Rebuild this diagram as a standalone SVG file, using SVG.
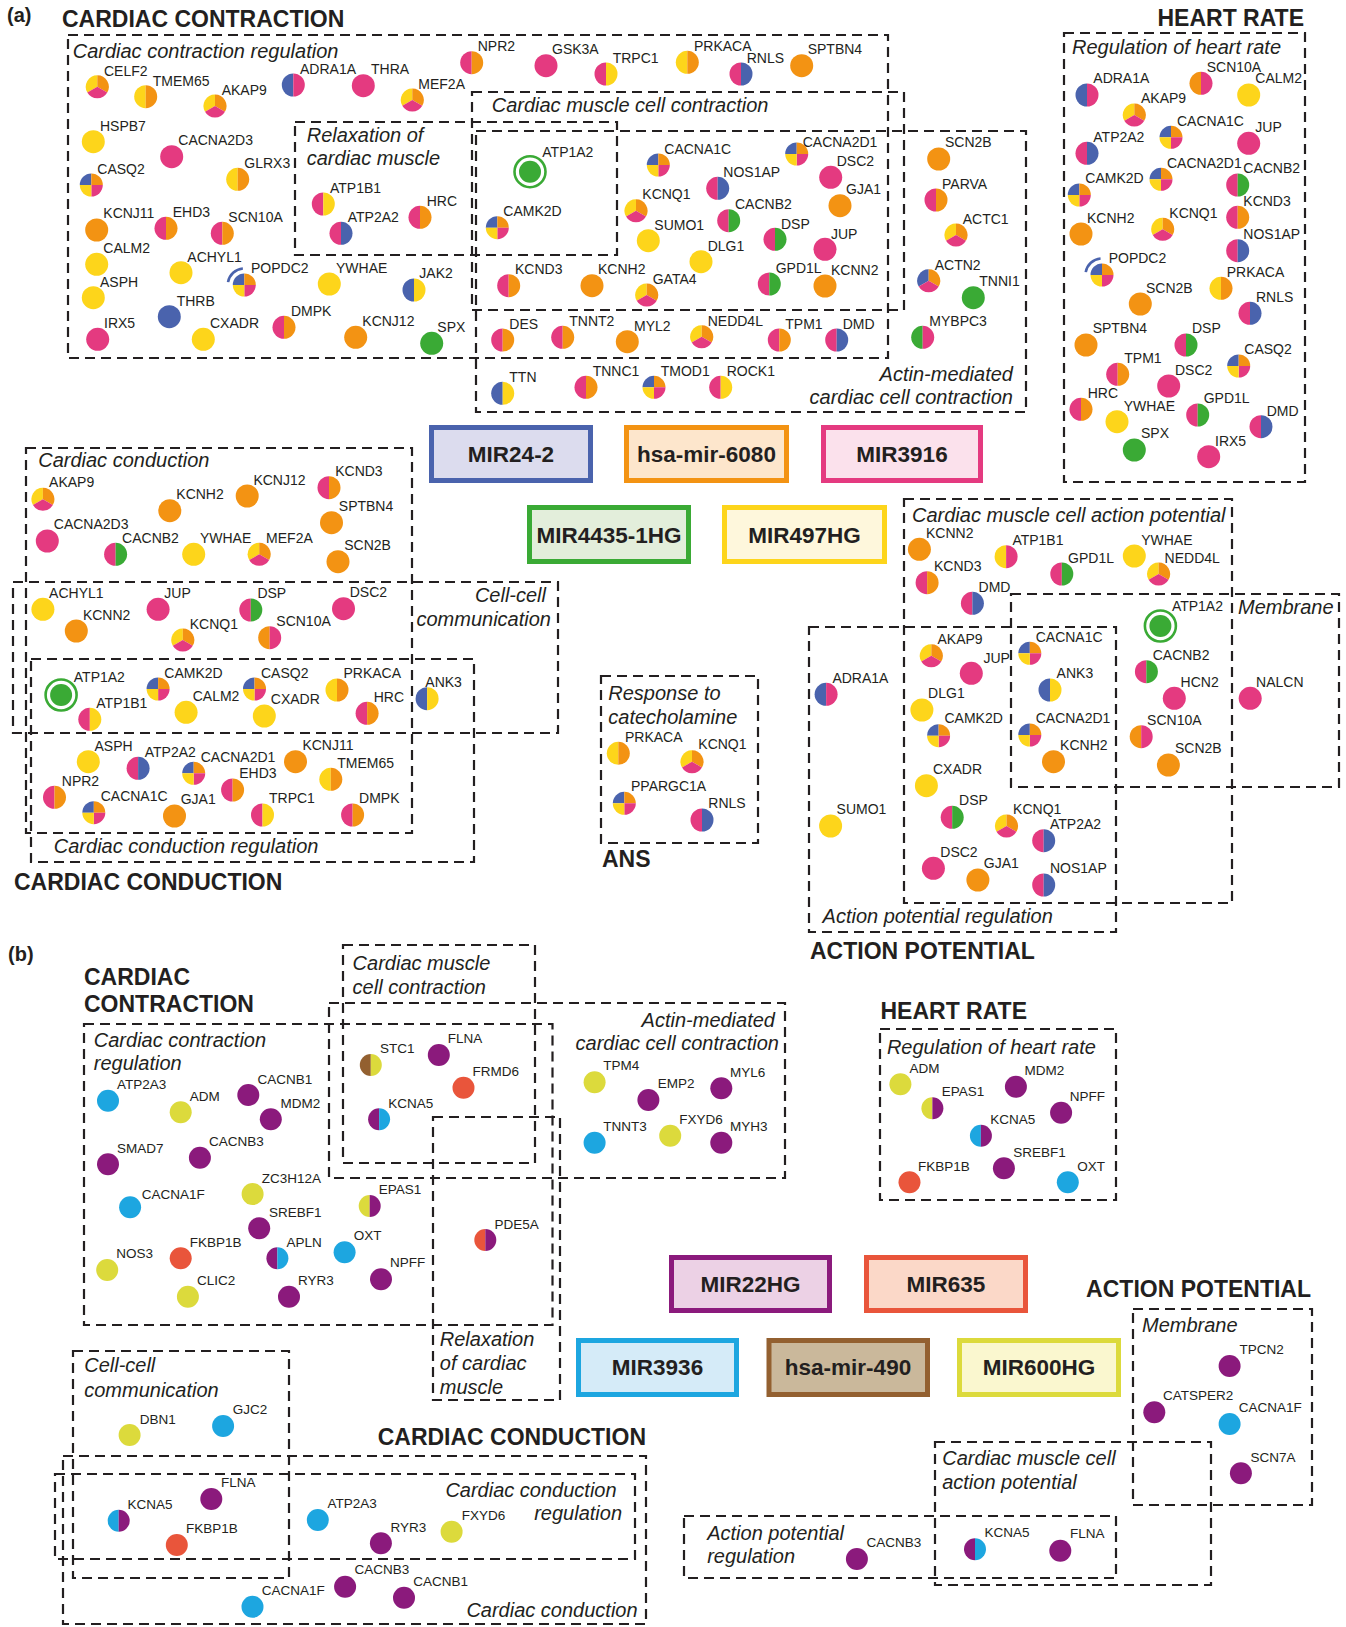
<svg xmlns="http://www.w3.org/2000/svg" width="1346" height="1627" viewBox="0 0 1346 1627">
<style>
text{font-family:"Liberation Sans",Arial,sans-serif;font-size:14px;fill:#231f20}
.pb text{font-size:13.5px}
.lbl{font-style:italic;font-size:20px}
.end{text-anchor:end}
.ttl{font-weight:bold;font-size:23px}
.mir{font-weight:bold;font-size:22.5px;text-anchor:middle}
.bx{fill:none;stroke:#231f20;stroke-width:2.2;stroke-dasharray:10 6}
.mb{stroke-width:5}
</style>
<defs>
<g id="Y"><circle r="11.5" fill="#fdd51b"/></g>
<g id="O"><circle r="11.5" fill="#f39313"/></g>
<g id="P"><circle r="11.5" fill="#e43a80"/></g>
<g id="B"><circle r="11.5" fill="#4a63ad"/></g>
<g id="G"><circle r="11.5" fill="#3aaa35"/></g>
<g id="PO"><path d="M0-11.5A11.5 11.5 0 0 0 0 11.5Z" fill="#e43a80"/><path d="M0-11.5A11.5 11.5 0 0 1 0 11.5Z" fill="#f39313"/></g>
<g id="OP"><path d="M0-11.5A11.5 11.5 0 0 0 0 11.5Z" fill="#f39313"/><path d="M0-11.5A11.5 11.5 0 0 1 0 11.5Z" fill="#e43a80"/></g>
<g id="YO"><path d="M0-11.5A11.5 11.5 0 0 0 0 11.5Z" fill="#fdd51b"/><path d="M0-11.5A11.5 11.5 0 0 1 0 11.5Z" fill="#f39313"/></g>
<g id="BP"><path d="M0-11.5A11.5 11.5 0 0 0 0 11.5Z" fill="#4a63ad"/><path d="M0-11.5A11.5 11.5 0 0 1 0 11.5Z" fill="#e43a80"/></g>
<g id="PB"><path d="M0-11.5A11.5 11.5 0 0 0 0 11.5Z" fill="#e43a80"/><path d="M0-11.5A11.5 11.5 0 0 1 0 11.5Z" fill="#4a63ad"/></g>
<g id="PY"><path d="M0-11.5A11.5 11.5 0 0 0 0 11.5Z" fill="#e43a80"/><path d="M0-11.5A11.5 11.5 0 0 1 0 11.5Z" fill="#fdd51b"/></g>
<g id="YP"><path d="M0-11.5A11.5 11.5 0 0 0 0 11.5Z" fill="#fdd51b"/><path d="M0-11.5A11.5 11.5 0 0 1 0 11.5Z" fill="#e43a80"/></g>
<g id="PG"><path d="M0-11.5A11.5 11.5 0 0 0 0 11.5Z" fill="#e43a80"/><path d="M0-11.5A11.5 11.5 0 0 1 0 11.5Z" fill="#3aaa35"/></g>
<g id="GP"><path d="M0-11.5A11.5 11.5 0 0 0 0 11.5Z" fill="#3aaa35"/><path d="M0-11.5A11.5 11.5 0 0 1 0 11.5Z" fill="#e43a80"/></g>
<g id="BY"><path d="M0-11.5A11.5 11.5 0 0 0 0 11.5Z" fill="#4a63ad"/><path d="M0-11.5A11.5 11.5 0 0 1 0 11.5Z" fill="#fdd51b"/></g>
<g id="YOP"><path d="M0 0L-9.96 5.75A11.5 11.5 0 0 1 0-11.5Z" fill="#fdd51b"/><path d="M0 0L0-11.5A11.5 11.5 0 0 1 9.96 5.75Z" fill="#f39313"/><path d="M0 0L9.96 5.75A11.5 11.5 0 0 1-9.96 5.75Z" fill="#e43a80"/></g>
<g id="BOP"><path d="M0 0L-9.96 5.75A11.5 11.5 0 0 1 0-11.5Z" fill="#4a63ad"/><path d="M0 0L0-11.5A11.5 11.5 0 0 1 9.96 5.75Z" fill="#f39313"/><path d="M0 0L9.96 5.75A11.5 11.5 0 0 1-9.96 5.75Z" fill="#e43a80"/></g>
<g id="Q4"><path d="M0 0L-11.5 0A11.5 11.5 0 0 1 0-11.5Z" fill="#4a63ad"/><path d="M0 0L0-11.5A11.5 11.5 0 0 1 11.5 0Z" fill="#f39313"/><path d="M0 0L11.5 0A11.5 11.5 0 0 1 0 11.5Z" fill="#e43a80"/><path d="M0 0L0 11.5A11.5 11.5 0 0 1-11.5 0Z" fill="#fdd51b"/></g>
<g id="POP"><use href="#Q4"/><path d="M-16.25-2.87A16.5 16.5 0 0 1-1.44-16.44" fill="none" stroke="#4a63ad" stroke-width="2.6"/></g>
<g id="ATP"><circle r="11" fill="#3aaa35"/><circle r="15.5" fill="none" stroke="#3aaa35" stroke-width="2.6"/></g>
<g id="bU"><circle r="11" fill="#8b1a7c"/></g>
<g id="bC"><circle r="11" fill="#1da6e0"/></g>
<g id="bG"><circle r="11" fill="#dcda3c"/></g>
<g id="bR"><circle r="11" fill="#e9553b"/></g>
<g id="bBrG"><path d="M0-11A11 11 0 0 0 0 11Z" fill="#936030"/><path d="M0-11A11 11 0 0 1 0 11Z" fill="#dcda3c"/></g>
<g id="bUC"><path d="M0-11A11 11 0 0 0 0 11Z" fill="#8b1a7c"/><path d="M0-11A11 11 0 0 1 0 11Z" fill="#1da6e0"/></g>
<g id="bCU"><path d="M0-11A11 11 0 0 0 0 11Z" fill="#1da6e0"/><path d="M0-11A11 11 0 0 1 0 11Z" fill="#8b1a7c"/></g>
<g id="bGU"><path d="M0-11A11 11 0 0 0 0 11Z" fill="#dcda3c"/><path d="M0-11A11 11 0 0 1 0 11Z" fill="#8b1a7c"/></g>
<g id="bRU"><path d="M0-11A11 11 0 0 0 0 11Z" fill="#e9553b"/><path d="M0-11A11 11 0 0 1 0 11Z" fill="#8b1a7c"/></g>
</defs>
<rect width="1346" height="1627" fill="#fff"/>

<g id="connectors"/>

<!-- ===== PART A ===== -->
<g id="a-titles">
<text x="7" y="22" style="font-weight:bold;font-size:20px">(a)</text>
<text class="ttl" x="62" y="27">CARDIAC CONTRACTION</text>
<text class="ttl end" x="1304" y="26">HEART RATE</text>
<text class="ttl" x="14" y="890">CARDIAC CONDUCTION</text>
<text class="ttl" x="602" y="867">ANS</text>
<text class="ttl" x="810" y="959">ACTION POTENTIAL</text>
</g>

<g id="a-boxes">
<rect class="bx" x="68" y="35" width="820" height="323"/>
<rect class="bx" x="295" y="122" width="322" height="133"/>
<rect class="bx" x="472" y="92" width="432" height="218"/>
<rect class="bx" x="476" y="131" width="550" height="281"/>
<rect class="bx" x="1064" y="33" width="241" height="449"/>
<rect class="bx" x="26" y="448" width="386" height="385"/>
<rect class="bx" x="13" y="582" width="545" height="151"/>
<rect class="bx" x="31" y="659" width="443" height="203"/>
<rect class="bx" x="601" y="676" width="157" height="167"/>
<rect class="bx" x="904" y="499" width="328" height="404"/>
<rect class="bx" x="1011" y="594" width="328" height="193"/>
<rect class="bx" x="809" y="627" width="307" height="305"/>
<text class="lbl" x="72.7" y="58">Cardiac contraction regulation</text>
<text class="lbl" x="306.7" y="141.7">Relaxation of</text>
<text class="lbl" x="306.7" y="165">cardiac muscle</text>
<text class="lbl" x="491.7" y="111.7">Cardiac muscle cell contraction</text>
<text class="lbl end" x="1013" y="381">Actin-mediated</text>
<text class="lbl end" x="1013" y="404">cardiac cell contraction</text>
<text class="lbl" x="1072" y="54">Regulation of heart rate</text>
<text class="lbl" x="38.2" y="466.7">Cardiac conduction</text>
<text class="lbl end" x="546" y="601.7">Cell-cell</text>
<text class="lbl end" x="551" y="626">communication</text>
<text class="lbl" x="53.8" y="853.3">Cardiac conduction regulation</text>
<text class="lbl" x="608.3" y="700">Response to</text>
<text class="lbl" x="608.3" y="724">catecholamine</text>
<text class="lbl" x="912" y="521.7">Cardiac muscle cell action potential</text>
<text class="lbl" x="1238" y="614.3">Membrane</text>
<text class="lbl" x="822.6" y="923.3">Action potential regulation</text>
</g>

<g id="a-mirnas">
<g id="a-MIR24-2"><rect class="mb" x="431.5" y="427.5" width="159" height="53" fill="#dcdcee" stroke="#4a63ad"/><text class="mir" x="511" y="462">MIR24-2</text></g>
<g id="a-hsa-mir-6080"><rect class="mb" x="626.5" y="427.5" width="160" height="53" fill="#fde6cc" stroke="#f39313"/><text class="mir" x="706.5" y="462">hsa-mir-6080</text></g>
<g id="a-MIR3916"><rect class="mb" x="823.5" y="427.5" width="157" height="53" fill="#fbe1ec" stroke="#e43a80"/><text class="mir" x="902" y="462">MIR3916</text></g>
<g id="a-MIR4435-1HG"><rect class="mb" x="529.5" y="507.5" width="159" height="54" fill="#e3eedb" stroke="#3aaa35"/><text class="mir" x="609" y="542.5">MIR4435-1HG</text></g>
<g id="a-MIR497HG"><rect class="mb" x="724.5" y="507.5" width="160" height="54" fill="#fef7dc" stroke="#fdd51b"/><text class="mir" x="804.5" y="542.5">MIR497HG</text></g>
</g>

<g id="a-contraction-nodes">
<g id="a1-CELF2"><use href="#YOP" x="97.3" y="86.7"/><text x="104" y="76">CELF2</text></g>
<g id="a1-TMEM65"><use href="#YO" x="145.7" y="96.7"/><text x="152.7" y="86">TMEM65</text></g>
<g id="a1-AKAP9"><use href="#YOP" x="215" y="106"/><text x="221.7" y="95">AKAP9</text></g>
<g id="a1-ADRA1A"><use href="#BP" x="293.3" y="85"/><text x="300" y="74">ADRA1A</text></g>
<g id="a1-THRA"><use href="#P" x="363.3" y="85.7"/><text x="371" y="74">THRA</text></g>
<g id="a1-MEF2A"><use href="#YOP" x="412.3" y="100"/><text x="418.3" y="89.3">MEF2A</text></g>
<g id="a1-NPR2"><use href="#PO" x="471.7" y="62.7"/><text x="477.7" y="51">NPR2</text></g>
<g id="a1-GSK3A"><use href="#P" x="546" y="65.7"/><text x="552" y="54.3">GSK3A</text></g>
<g id="a1-TRPC1"><use href="#PY" x="606" y="74"/><text x="612.7" y="63.3">TRPC1</text></g>
<g id="a1-PRKACA"><use href="#YO" x="687.3" y="62.3"/><text x="694" y="51">PRKACA</text></g>
<g id="a1-RNLS"><use href="#PB" x="741" y="74"/><text x="746.7" y="62.7">RNLS</text></g>
<g id="a1-SPTBN4"><use href="#O" x="801.7" y="65.7"/><text x="807.7" y="54.3">SPTBN4</text></g>
<g id="a1-HSPB7"><use href="#Y" x="93.3" y="141.7"/><text x="100" y="130.7">HSPB7</text></g>
<g id="a1-CACNA2D3"><use href="#P" x="171.7" y="156.7"/><text x="178.3" y="145">CACNA2D3</text></g>
<g id="a1-CASQ2"><use href="#Q4" x="91.3" y="185"/><text x="97.3" y="174">CASQ2</text></g>
<g id="a1-GLRX3"><use href="#YO" x="237.7" y="179.3"/><text x="244.3" y="168.3">GLRX3</text></g>
<g id="a1-KCNJ11"><use href="#O" x="96.7" y="230"/><text x="103.3" y="218.3">KCNJ11</text></g>
<g id="a1-EHD3"><use href="#PO" x="166" y="228.3"/><text x="172.7" y="217.3">EHD3</text></g>
<g id="a1-SCN10A"><use href="#PO" x="222.3" y="233.3"/><text x="228.3" y="222.3">SCN10A</text></g>
<g id="a1-CALM2"><use href="#Y" x="96.7" y="264.3"/><text x="103.3" y="253.3">CALM2</text></g>
<g id="a1-ACHYL1"><use href="#Y" x="181" y="272.7"/><text x="187.3" y="261.7">ACHYL1</text></g>
<g id="a1-POPDC2"><use href="#POP" x="244.3" y="285"/><text x="251" y="273.3">POPDC2</text></g>
<g id="a1-YWHAE"><use href="#Y" x="329.3" y="284"/><text x="336" y="273.3">YWHAE</text></g>
<g id="a1-JAK2"><use href="#BY" x="414" y="290"/><text x="419.3" y="278.3">JAK2</text></g>
<g id="a1-ASPH"><use href="#Y" x="93.3" y="297.7"/><text x="100" y="286.7">ASPH</text></g>
<g id="a1-THRB"><use href="#B" x="169.3" y="316.7"/><text x="176.7" y="306">THRB</text></g>
<g id="a1-CXADR"><use href="#Y" x="203.3" y="339.3"/><text x="210" y="328.3">CXADR</text></g>
<g id="a1-DMPK"><use href="#PO" x="284" y="327.3"/><text x="291" y="316">DMPK</text></g>
<g id="a1-KCNJ12"><use href="#O" x="355.7" y="337.3"/><text x="362.3" y="326">KCNJ12</text></g>
<g id="a1-IRX5"><use href="#P" x="97.7" y="339.3"/><text x="104" y="328.3">IRX5</text></g>
<g id="a1-SPX"><use href="#G" x="431.7" y="343.3"/><text x="437.3" y="331.7">SPX</text></g>
<g id="a1-ATP1B1"><use href="#PY" x="323.3" y="204"/><text x="330" y="193.3">ATP1B1</text></g>
<g id="a1-ATP2A2"><use href="#PB" x="341" y="233.3"/><text x="347.7" y="222.3">ATP2A2</text></g>
<g id="a1-HRC"><use href="#PO" x="420" y="217.3"/><text x="426.7" y="205.7">HRC</text></g>
<g id="a1-ATP1A2"><use href="#ATP" x="530" y="171.7"/><text x="542.3" y="156.7">ATP1A2</text></g>
<g id="a1-CAMK2D"><use href="#Q4" x="497.3" y="227.7"/><text x="503.3" y="216">CAMK2D</text></g>
<g id="a1-CACNA1C"><use href="#Q4" x="658.3" y="165"/><text x="664.3" y="154">CACNA1C</text></g>
<g id="a1-NOS1AP"><use href="#PB" x="717.7" y="188.3"/><text x="723.3" y="176.7">NOS1AP</text></g>
<g id="a1-CACNA2D1"><use href="#Q4" x="796.7" y="154"/><text x="802.7" y="147">CACNA2D1</text></g>
<g id="a1-DSC2"><use href="#P" x="830.7" y="177.3"/><text x="836.7" y="166">DSC2</text></g>
<g id="a1-KCNQ1"><use href="#YOP" x="636" y="210.7"/><text x="642.3" y="199.3">KCNQ1</text></g>
<g id="a1-SUMO1"><use href="#Y" x="648.3" y="240.7"/><text x="654.3" y="230">SUMO1</text></g>
<g id="a1-CACNB2"><use href="#PG" x="728.7" y="220.7"/><text x="735" y="209.3">CACNB2</text></g>
<g id="a1-GJA1"><use href="#O" x="840" y="205.7"/><text x="846" y="194.3">GJA1</text></g>
<g id="a1-DSP"><use href="#PG" x="775" y="239.3"/><text x="781" y="228.7">DSP</text></g>
<g id="a1-DLG1"><use href="#Y" x="701" y="261.7"/><text x="707.7" y="250.7">DLG1</text></g>
<g id="a1-JUP"><use href="#P" x="825" y="249.3"/><text x="831" y="238.7">JUP</text></g>
<g id="a1-KCND3"><use href="#PO" x="508.7" y="285.7"/><text x="515" y="274.3">KCND3</text></g>
<g id="a1-KCNH2"><use href="#O" x="592" y="285.7"/><text x="598" y="274.3">KCNH2</text></g>
<g id="a1-GATA4"><use href="#YOP" x="646.7" y="295"/><text x="652.7" y="284.3">GATA4</text></g>
<g id="a1-GPD1L"><use href="#PG" x="769.3" y="284"/><text x="775.7" y="272.7">GPD1L</text></g>
<g id="a1-KCNN2"><use href="#O" x="825" y="286"/><text x="831" y="275">KCNN2</text></g>
<g id="a1-DES"><use href="#PO" x="502.7" y="340"/><text x="509.3" y="329">DES</text></g>
<g id="a1-TNNT2"><use href="#PO" x="562.7" y="337.3"/><text x="569.3" y="325.7">TNNT2</text></g>
<g id="a1-MYL2"><use href="#O" x="627.3" y="341.7"/><text x="634" y="331">MYL2</text></g>
<g id="a1-NEDD4L"><use href="#YOP" x="701.7" y="336.7"/><text x="707.7" y="325.7">NEDD4L</text></g>
<g id="a1-TPM1"><use href="#PO" x="779.3" y="340"/><text x="785.3" y="329">TPM1</text></g>
<g id="a1-DMD"><use href="#PB" x="836.7" y="340"/><text x="842.7" y="329">DMD</text></g>
<g id="a1-TTN"><use href="#BY" x="502.7" y="393.3"/><text x="509.3" y="381.7">TTN</text></g>
<g id="a1-TNNC1"><use href="#PO" x="586" y="387.3"/><text x="592.7" y="376">TNNC1</text></g>
<g id="a1-TMOD1"><use href="#Q4" x="654" y="387.3"/><text x="660.7" y="376">TMOD1</text></g>
<g id="a1-ROCK1"><use href="#PY" x="720.7" y="387.3"/><text x="726.7" y="376">ROCK1</text></g>
<g id="a1-SCN2B"><use href="#O" x="938.7" y="159"/><text x="945" y="147.3">SCN2B</text></g>
<g id="a1-PARVA"><use href="#PO" x="936" y="200"/><text x="942" y="189">PARVA</text></g>
<g id="a1-ACTC1"><use href="#YOP" x="956" y="235"/><text x="962.7" y="224">ACTC1</text></g>
<g id="a1-ACTN2"><use href="#BOP" x="928.7" y="280.7"/><text x="934.7" y="270">ACTN2</text></g>
<g id="a1-TNNI1"><use href="#G" x="973.3" y="297.7"/><text x="979.3" y="286">TNNI1</text></g>
<g id="a1-MYBPC3"><use href="#GP" x="922.7" y="337.3"/><text x="929.3" y="326">MYBPC3</text></g>
</g>

<g id="a-heartrate-nodes">
<g id="a2-ADRA1A"><use href="#BP" x="1087" y="95"/><text x="1093.3" y="83.3">ADRA1A</text></g>
<g id="a2-SCN10A"><use href="#OP" x="1201" y="83.3"/><text x="1206.7" y="71.7">SCN10A</text></g>
<g id="a2-CALM2"><use href="#Y" x="1248.7" y="95"/><text x="1255.3" y="83.3">CALM2</text></g>
<g id="a2-AKAP9"><use href="#YOP" x="1134.3" y="115"/><text x="1141" y="103.3">AKAP9</text></g>
<g id="a2-CACNA1C"><use href="#Q4" x="1171" y="137.3"/><text x="1177" y="126">CACNA1C</text></g>
<g id="a2-JUP"><use href="#P" x="1248.7" y="143.3"/><text x="1255.3" y="131.7">JUP</text></g>
<g id="a2-ATP2A2"><use href="#PB" x="1087" y="153.3"/><text x="1093.3" y="141.7">ATP2A2</text></g>
<g id="a2-CACNA2D1"><use href="#Q4" x="1161" y="179.3"/><text x="1167" y="167.7">CACNA2D1</text></g>
<g id="a2-CACNB2"><use href="#PG" x="1237.7" y="185"/><text x="1243.3" y="173.3">CACNB2</text></g>
<g id="a2-CAMK2D"><use href="#Q4" x="1079.3" y="195"/><text x="1085.3" y="183.3">CAMK2D</text></g>
<g id="a2-KCND3"><use href="#PO" x="1237.7" y="217.3"/><text x="1243.3" y="206">KCND3</text></g>
<g id="a2-KCNH2"><use href="#O" x="1081" y="234"/><text x="1087" y="222.7">KCNH2</text></g>
<g id="a2-KCNQ1"><use href="#YOP" x="1162.7" y="229.3"/><text x="1169.3" y="217.7">KCNQ1</text></g>
<g id="a2-NOS1AP"><use href="#PB" x="1237.7" y="250.7"/><text x="1243.3" y="239.3">NOS1AP</text></g>
<g id="a2-POPDC2"><use href="#POP" x="1102" y="275"/><text x="1108.7" y="263.3">POPDC2</text></g>
<g id="a2-PRKACA"><use href="#YO" x="1221" y="288.3"/><text x="1226.7" y="276.7">PRKACA</text></g>
<g id="a2-SCN2B"><use href="#O" x="1140.3" y="304"/><text x="1146" y="292.7">SCN2B</text></g>
<g id="a2-RNLS"><use href="#PB" x="1250" y="313.3"/><text x="1256" y="301.7">RNLS</text></g>
<g id="a2-SPTBN4"><use href="#O" x="1086" y="345"/><text x="1092.7" y="333.3">SPTBN4</text></g>
<g id="a2-DSP"><use href="#PG" x="1186" y="345"/><text x="1192" y="333.3">DSP</text></g>
<g id="a2-CASQ2"><use href="#Q4" x="1238.7" y="366"/><text x="1244.3" y="354.3">CASQ2</text></g>
<g id="a2-TPM1"><use href="#PO" x="1117.7" y="374.3"/><text x="1124.3" y="363.3">TPM1</text></g>
<g id="a2-DSC2"><use href="#P" x="1168.7" y="386"/><text x="1175" y="375">DSC2</text></g>
<g id="a2-HRC"><use href="#PO" x="1081" y="409.3"/><text x="1087.7" y="398.3">HRC</text></g>
<g id="a2-YWHAE"><use href="#Y" x="1117" y="421.7"/><text x="1123.7" y="410.7">YWHAE</text></g>
<g id="a2-GPD1L"><use href="#PG" x="1197.7" y="415"/><text x="1203.7" y="403.3">GPD1L</text></g>
<g id="a2-DMD"><use href="#PB" x="1261" y="426.7"/><text x="1266.7" y="416">DMD</text></g>
<g id="a2-SPX"><use href="#G" x="1134.3" y="450"/><text x="1141" y="438.3">SPX</text></g>
<g id="a2-IRX5"><use href="#P" x="1208.7" y="456.7"/><text x="1215" y="445.7">IRX5</text></g>
</g>

<g id="a-conduction-nodes">
<g id="a3-AKAP9"><use href="#YOP" x="42.9" y="499.3"/><text x="49.1" y="487.3">AKAP9</text></g>
<g id="a3-KCNH2"><use href="#O" x="169.8" y="510.7"/><text x="176.3" y="499.3">KCNH2</text></g>
<g id="a3-KCNJ12"><use href="#O" x="247.2" y="496"/><text x="253.4" y="485">KCNJ12</text></g>
<g id="a3-KCND3"><use href="#PO" x="329" y="487.7"/><text x="335.2" y="476">KCND3</text></g>
<g id="a3-SPTBN4"><use href="#O" x="331.5" y="522.7"/><text x="338.8" y="511">SPTBN4</text></g>
<g id="a3-CACNA2D3"><use href="#P" x="47.3" y="541"/><text x="53.8" y="529.3">CACNA2D3</text></g>
<g id="a3-CACNB2"><use href="#PG" x="115.6" y="554.3"/><text x="122.1" y="543.3">CACNB2</text></g>
<g id="a3-YWHAE"><use href="#Y" x="193.7" y="554.3"/><text x="199.9" y="543.3">YWHAE</text></g>
<g id="a3-MEF2A"><use href="#YOP" x="259.2" y="554.3"/><text x="266.1" y="543.3">MEF2A</text></g>
<g id="a3-SCN2B"><use href="#O" x="338" y="561.7"/><text x="344.2" y="550">SCN2B</text></g>
<g id="a3-ACHYL1"><use href="#Y" x="42.9" y="609.3"/><text x="49.1" y="598.3">ACHYL1</text></g>
<g id="a3-KCNN2"><use href="#O" x="76.3" y="631"/><text x="82.9" y="620">KCNN2</text></g>
<g id="a3-JUP"><use href="#P" x="158.1" y="609.3"/><text x="164.3" y="598.3">JUP</text></g>
<g id="a3-DSP"><use href="#PG" x="250.8" y="610"/><text x="257.4" y="598.3">DSP</text></g>
<g id="a3-DSC2"><use href="#P" x="343.5" y="608.7"/><text x="349.7" y="597.3">DSC2</text></g>
<g id="a3-KCNQ1"><use href="#YOP" x="182.8" y="640"/><text x="189.7" y="628.7">KCNQ1</text></g>
<g id="a3-SCN10A"><use href="#OP" x="269.7" y="637.7"/><text x="276.3" y="626">SCN10A</text></g>
<g id="a3-ATP1A2"><use href="#ATP" x="61.1" y="695"/><text x="73.8" y="681.7">ATP1A2</text></g>
<g id="a3-ATP1B1"><use href="#PY" x="89.8" y="719.3"/><text x="96.3" y="708.3">ATP1B1</text></g>
<g id="a3-CAMK2D"><use href="#Q4" x="158.1" y="689"/><text x="164.3" y="678.3">CAMK2D</text></g>
<g id="a3-CALM2"><use href="#Y" x="186.1" y="712.3"/><text x="192.7" y="701">CALM2</text></g>
<g id="a3-CASQ2"><use href="#Q4" x="254.5" y="689"/><text x="261" y="678.3">CASQ2</text></g>
<g id="a3-CXADR"><use href="#Y" x="264.3" y="716"/><text x="270.8" y="704.3">CXADR</text></g>
<g id="a3-PRKACA"><use href="#YO" x="337" y="690"/><text x="343.5" y="678.3">PRKACA</text></g>
<g id="a3-HRC"><use href="#PO" x="367.1" y="713.3"/><text x="373.7" y="701.7">HRC</text></g>
<g id="a3-ANK3"><use href="#BY" x="427.1" y="698.7"/><text x="425.3" y="686.7">ANK3</text></g>
<g id="a3-ASPH"><use href="#Y" x="88.3" y="761.7"/><text x="94.5" y="750.7">ASPH</text></g>
<g id="a3-ATP2A2"><use href="#PB" x="138.1" y="768.3"/><text x="144.7" y="756.7">ATP2A2</text></g>
<g id="a3-CACNA2D1"><use href="#Q4" x="193.7" y="773.3"/><text x="200.7" y="762.3">CACNA2D1</text></g>
<g id="a3-KCNJ11"><use href="#O" x="295.5" y="761.7"/><text x="302.4" y="750">KCNJ11</text></g>
<g id="a3-TMEM65"><use href="#YO" x="330.8" y="779.3"/><text x="337.3" y="767.7">TMEM65</text></g>
<g id="a3-EHD3"><use href="#PO" x="232.6" y="790"/><text x="239.2" y="777.7">EHD3</text></g>
<g id="a3-NPR2"><use href="#PO" x="54.5" y="797.3"/><text x="61.8" y="785.7">NPR2</text></g>
<g id="a3-CACNA1C"><use href="#Q4" x="93.8" y="812.7"/><text x="100.7" y="800.7">CACNA1C</text></g>
<g id="a3-GJA1"><use href="#O" x="174.5" y="816"/><text x="180.7" y="804">GJA1</text></g>
<g id="a3-TRPC1"><use href="#PY" x="262.5" y="815"/><text x="269" y="803.3">TRPC1</text></g>
<g id="a3-DMPK"><use href="#PO" x="352.6" y="815"/><text x="359.1" y="803.3">DMPK</text></g>
</g>

<g id="a-ans-nodes">
<g id="a4-PRKACA"><use href="#YO" x="618.3" y="753.3"/><text x="625" y="741.7">PRKACA</text></g>
<g id="a4-KCNQ1"><use href="#YOP" x="692" y="761.7"/><text x="698.3" y="749.3">KCNQ1</text></g>
<g id="a4-PPARGC1A"><use href="#Q4" x="624.3" y="803.3"/><text x="631" y="791">PPARGC1A</text></g>
<g id="a4-RNLS"><use href="#PB" x="702" y="820"/><text x="708.3" y="808.3">RNLS</text></g>
</g>

<g id="a-ap-nodes">
<g id="a5-KCNN2"><use href="#O" x="919.4" y="549.3"/><text x="926" y="537.7">KCNN2</text></g>
<g id="a5-ATP1B1"><use href="#YP" x="1006.1" y="556.7"/><text x="1012.4" y="545">ATP1B1</text></g>
<g id="a5-YWHAE"><use href="#Y" x="1134.3" y="556"/><text x="1141.2" y="545">YWHAE</text></g>
<g id="a5-KCND3"><use href="#PO" x="927.1" y="582.7"/><text x="934" y="571">KCND3</text></g>
<g id="a5-GPD1L"><use href="#PG" x="1061.8" y="574"/><text x="1068.1" y="562.7">GPD1L</text></g>
<g id="a5-NEDD4L"><use href="#YOP" x="1158.6" y="574"/><text x="1164.6" y="562.7">NEDD4L</text></g>
<g id="a5-DMD"><use href="#PB" x="972.4" y="603.3"/><text x="978.6" y="591.7">DMD</text></g>
<g id="a5-ATP1A2"><use href="#ATP" x="1160.4" y="626"/><text x="1171.9" y="610.7">ATP1A2</text></g>
<g id="a5-AKAP9"><use href="#YOP" x="931.3" y="655.7"/><text x="937.5" y="644">AKAP9</text></g>
<g id="a5-JUP"><use href="#P" x="971.3" y="673.3"/><text x="983.5" y="662.7">JUP</text></g>
<g id="a5-CACNA1C"><use href="#Q4" x="1029.8" y="653.3"/><text x="1035.7" y="641.7">CACNA1C</text></g>
<g id="a5-CACNB2"><use href="#PG" x="1146.4" y="671.7"/><text x="1152.7" y="660">CACNB2</text></g>
<g id="a5-ADRA1A"><use href="#BP" x="826.1" y="694.3"/><text x="832.4" y="682.7">ADRA1A</text></g>
<g id="a5-ANK3"><use href="#BY" x="1050" y="690"/><text x="1056.6" y="678.3">ANK3</text></g>
<g id="a5-HCN2"><use href="#P" x="1174.3" y="698.3"/><text x="1180.6" y="687.3">HCN2</text></g>
<g id="a5-NALCN"><use href="#P" x="1250.2" y="698.3"/><text x="1256.1" y="687.3">NALCN</text></g>
<g id="a5-DLG1"><use href="#Y" x="921.9" y="710"/><text x="928.1" y="698.3">DLG1</text></g>
<g id="a5-CAMK2D"><use href="#Q4" x="938.6" y="735.7"/><text x="944.5" y="723.3">CAMK2D</text></g>
<g id="a5-CACNA2D1"><use href="#Q4" x="1029.8" y="735"/><text x="1035.7" y="723.3">CACNA2D1</text></g>
<g id="a5-SCN10A"><use href="#OP" x="1141.2" y="736.7"/><text x="1147.1" y="725">SCN10A</text></g>
<g id="a5-KCNH2"><use href="#O" x="1053.5" y="761.7"/><text x="1060.1" y="750">KCNH2</text></g>
<g id="a5-SCN2B"><use href="#O" x="1168.4" y="765"/><text x="1175" y="753.3">SCN2B</text></g>
<g id="a5-CXADR"><use href="#Y" x="926.4" y="785.7"/><text x="933" y="774">CXADR</text></g>
<g id="a5-SUMO1"><use href="#Y" x="830.6" y="826"/><text x="836.6" y="814.3">SUMO1</text></g>
<g id="a5-DSP"><use href="#PG" x="952.2" y="817.3"/><text x="959.1" y="805">DSP</text></g>
<g id="a5-KCNQ1"><use href="#YOP" x="1006.5" y="826"/><text x="1013.1" y="814">KCNQ1</text></g>
<g id="a5-ATP2A2"><use href="#PB" x="1043.7" y="840.7"/><text x="1050" y="829">ATP2A2</text></g>
<g id="a5-DSC2"><use href="#P" x="933.4" y="868.3"/><text x="940.3" y="856.7">DSC2</text></g>
<g id="a5-GJA1"><use href="#O" x="977.9" y="880"/><text x="983.8" y="868.3">GJA1</text></g>
<g id="a5-NOS1AP"><use href="#PB" x="1043.7" y="885"/><text x="1050" y="873.3">NOS1AP</text></g>
</g>

<!-- ===== PART B ===== -->
<g id="b-titles">
<text x="8" y="961" style="font-weight:bold;font-size:20px">(b)</text>
<text class="ttl" x="84" y="985">CARDIAC</text>
<text class="ttl" x="84" y="1012">CONTRACTION</text>
<text class="ttl" x="880.5" y="1019">HEART RATE</text>
<text class="ttl end" x="646" y="1445">CARDIAC CONDUCTION</text>
<text class="ttl end" x="1311" y="1297">ACTION POTENTIAL</text>
</g>

<g id="b-boxes">
<rect class="bx" x="84" y="1024" width="468.5" height="301"/>
<rect class="bx" x="343" y="945" width="192" height="218"/>
<rect class="bx" x="329" y="1003" width="456" height="175"/>
<rect class="bx" x="433" y="1117" width="127" height="283"/>
<rect class="bx" x="880" y="1029" width="236" height="171"/>
<rect class="bx" x="73" y="1351" width="216" height="227"/>
<rect class="bx" x="63" y="1456" width="583" height="168"/>
<rect class="bx" x="55" y="1474" width="580" height="85"/>
<rect class="bx" x="1133" y="1309" width="179" height="196"/>
<rect class="bx" x="935" y="1442" width="276" height="143"/>
<rect class="bx" x="684" y="1516" width="432" height="62"/>
<text class="lbl" x="352.6" y="970">Cardiac muscle</text>
<text class="lbl" x="352.6" y="994.3">cell contraction</text>
<text class="lbl end" x="775" y="1026.7">Actin-mediated</text>
<text class="lbl end" x="779" y="1050">cardiac cell contraction</text>
<text class="lbl" x="93.8" y="1046.7">Cardiac contraction</text>
<text class="lbl" x="93.8" y="1070">regulation</text>
<text class="lbl" x="439.8" y="1346">Relaxation</text>
<text class="lbl" x="439.8" y="1370">of cardiac</text>
<text class="lbl" x="439.8" y="1394">muscle</text>
<text class="lbl" x="886.9" y="1054">Regulation of heart rate</text>
<text class="lbl" x="84.2" y="1371.7">Cell-cell</text>
<text class="lbl" x="84.2" y="1396.7">communication</text>
<text class="lbl end" x="616.6" y="1496.7">Cardiac conduction</text>
<text class="lbl end" x="622" y="1520">regulation</text>
<text class="lbl end" x="637.6" y="1616.7">Cardiac conduction</text>
<text class="lbl" x="1142" y="1331.7">Membrane</text>
<text class="lbl" x="942.2" y="1465">Cardiac muscle cell</text>
<text class="lbl" x="942.2" y="1489.3">action potential</text>
<text class="lbl" x="707.2" y="1540">Action potential</text>
<text class="lbl" x="707.2" y="1563.3">regulation</text>
</g>

<g id="b-mirnas">
<g id="b-MIR22HG"><rect class="mb" x="671.5" y="1257.5" width="158" height="53" fill="#ecd1e5" stroke="#8b1a7c"/><text class="mir" x="750.5" y="1292">MIR22HG</text></g>
<g id="b-MIR635"><rect class="mb" x="866.5" y="1257.5" width="159" height="53" fill="#fbd8c8" stroke="#e9553b"/><text class="mir" x="946" y="1292">MIR635</text></g>
<g id="b-MIR3936"><rect class="mb" x="578.5" y="1340.5" width="158" height="54" fill="#d5ebf8" stroke="#1da6e0"/><text class="mir" x="657.5" y="1375">MIR3936</text></g>
<g id="b-hsa-mir-490"><rect class="mb" x="769" y="1340.5" width="158.5" height="54" fill="#cab89b" stroke="#936030"/><text class="mir" x="848" y="1375">hsa-mir-490</text></g>
<g id="b-MIR600HG"><rect class="mb" x="959.5" y="1340.5" width="159" height="54" fill="#faf7cf" stroke="#dcda3c"/><text class="mir" x="1039" y="1375">MIR600HG</text></g>
</g>

<g id="b-contraction-nodes" class="pb">
<g id="b1-ATP2A3"><use href="#bC" x="108" y="1100.7"/><text x="117" y="1089.3">ATP2A3</text></g>
<g id="b1-ADM"><use href="#bG" x="180.7" y="1112.3"/><text x="189.7" y="1100.7">ADM</text></g>
<g id="b1-CACNB1"><use href="#bU" x="248.3" y="1095"/><text x="257.4" y="1084">CACNB1</text></g>
<g id="b1-MDM2"><use href="#bU" x="270.8" y="1119.3"/><text x="280.6" y="1107.7">MDM2</text></g>
<g id="b1-SMAD7"><use href="#bU" x="108" y="1164.3"/><text x="117" y="1152.7">SMAD7</text></g>
<g id="b1-CACNB3"><use href="#bU" x="199.9" y="1157.7"/><text x="209" y="1146">CACNB3</text></g>
<g id="b1-ZC3H12A"><use href="#bG" x="252.6" y="1194"/><text x="261.7" y="1182.7">ZC3H12A</text></g>
<g id="b1-CACNA1F"><use href="#bC" x="130.1" y="1207.3"/><text x="141.8" y="1199.3">CACNA1F</text></g>
<g id="b1-EPAS1"><use href="#bGU" x="369.7" y="1206"/><text x="378.8" y="1194">EPAS1</text></g>
<g id="b1-SREBF1"><use href="#bU" x="259.2" y="1228.3"/><text x="269" y="1216.7">SREBF1</text></g>
<g id="b1-FKBP1B"><use href="#bR" x="180.7" y="1258.3"/><text x="189.7" y="1246.7">FKBP1B</text></g>
<g id="b1-APLN"><use href="#bUC" x="277.4" y="1258.3"/><text x="286.4" y="1246.7">APLN</text></g>
<g id="b1-OXT"><use href="#bC" x="344.6" y="1252.3"/><text x="353.7" y="1240">OXT</text></g>
<g id="b1-NOS3"><use href="#bG" x="107.2" y="1270"/><text x="116.3" y="1258.3">NOS3</text></g>
<g id="b1-NPFF"><use href="#bU" x="381" y="1279.3"/><text x="390" y="1267.3">NPFF</text></g>
<g id="b1-CLIC2"><use href="#bG" x="187.9" y="1296.7"/><text x="197" y="1285">CLIC2</text></g>
<g id="b1-RYR3"><use href="#bU" x="289" y="1296.7"/><text x="298.1" y="1285">RYR3</text></g>
<g id="b1-STC1"><use href="#bBrG" x="370.8" y="1065"/><text x="379.9" y="1053.3">STC1</text></g>
<g id="b1-FLNA"><use href="#bU" x="438.8" y="1055"/><text x="447.8" y="1043.3">FLNA</text></g>
<g id="b1-FRMD6"><use href="#bR" x="463.5" y="1087.7"/><text x="472.6" y="1076">FRMD6</text></g>
<g id="b1-KCNA5"><use href="#bUC" x="379.1" y="1119.3"/><text x="388.2" y="1107.7">KCNA5</text></g>
<g id="b1-PDE5A"><use href="#bRU" x="485.3" y="1240"/><text x="494.4" y="1229.3">PDE5A</text></g>
<g id="b1-TPM4"><use href="#bG" x="594.6" y="1082.3"/><text x="603.2" y="1070">TPM4</text></g>
<g id="b1-EMP2"><use href="#bU" x="648.4" y="1100"/><text x="657.8" y="1088.3">EMP2</text></g>
<g id="b1-MYL6"><use href="#bU" x="721.3" y="1088.3"/><text x="730" y="1076.7">MYL6</text></g>
<g id="b1-TNNT3"><use href="#bC" x="594.6" y="1142.7"/><text x="603.2" y="1131">TNNT3</text></g>
<g id="b1-FXYD6"><use href="#bG" x="670.2" y="1135.7"/><text x="679.2" y="1124">FXYD6</text></g>
<g id="b1-MYH3"><use href="#bU" x="721.3" y="1142.7"/><text x="730" y="1131">MYH3</text></g>
</g>

<g id="b-heartrate-nodes" class="pb">
<g id="b2-ADM"><use href="#bG" x="900.4" y="1084.3"/><text x="909.4" y="1072.7">ADM</text></g>
<g id="b2-MDM2"><use href="#bU" x="1015.9" y="1086.7"/><text x="1024.6" y="1075">MDM2</text></g>
<g id="b2-EPAS1"><use href="#bGU" x="932.4" y="1108.3"/><text x="941.8" y="1096">EPAS1</text></g>
<g id="b2-NPFF"><use href="#bU" x="1061.1" y="1112.7"/><text x="1069.7" y="1100.7">NPFF</text></g>
<g id="b2-KCNA5"><use href="#bCU" x="980.9" y="1135.7"/><text x="990.3" y="1124">KCNA5</text></g>
<g id="b2-SREBF1"><use href="#bU" x="1003.9" y="1168.3"/><text x="1013.3" y="1156.7">SREBF1</text></g>
<g id="b2-FKBP1B"><use href="#bR" x="909.5" y="1182.3"/><text x="918.1" y="1170.7">FKBP1B</text></g>
<g id="b2-OXT"><use href="#bC" x="1067.8" y="1182.3"/><text x="1077.2" y="1170.7">OXT</text></g>
</g>

<g id="b-conduction-nodes" class="pb">
<g id="b3-DBN1"><use href="#bG" x="129.6" y="1435"/><text x="139.7" y="1424">DBN1</text></g>
<g id="b3-GJC2"><use href="#bC" x="223.1" y="1426"/><text x="232.7" y="1414">GJC2</text></g>
<g id="b3-FLNA"><use href="#bU" x="211.3" y="1499"/><text x="221" y="1487.3">FLNA</text></g>
<g id="b3-KCNA5"><use href="#bCU" x="118.7" y="1520.7"/><text x="127.5" y="1509">KCNA5</text></g>
<g id="b3-FKBP1B"><use href="#bR" x="176.8" y="1545"/><text x="186" y="1533.3">FKBP1B</text></g>
<g id="b3-ATP2A3"><use href="#bC" x="317.8" y="1520"/><text x="327.4" y="1508.3">ATP2A3</text></g>
<g id="b3-RYR3"><use href="#bU" x="380.9" y="1543.3"/><text x="390.6" y="1531.7">RYR3</text></g>
<g id="b3-FXYD6"><use href="#bG" x="451.6" y="1531.7"/><text x="461.7" y="1520">FXYD6</text></g>
<g id="b3-CACNB3"><use href="#bU" x="345.1" y="1586.7"/><text x="354.4" y="1574.3">CACNB3</text></g>
<g id="b3-CACNB1"><use href="#bU" x="404" y="1597.7"/><text x="413.3" y="1586">CACNB1</text></g>
<g id="b3-CACNA1F"><use href="#bC" x="252.5" y="1606.7"/><text x="261.8" y="1595">CACNA1F</text></g>
</g>

<g id="b-ap-nodes" class="pb">
<g id="b4-TPCN2"><use href="#bU" x="1229.6" y="1366"/><text x="1239.6" y="1354.3">TPCN2</text></g>
<g id="b4-CATSPER2"><use href="#bU" x="1154.3" y="1412.3"/><text x="1163" y="1400">CATSPER2</text></g>
<g id="b4-CACNA1F"><use href="#bC" x="1229.6" y="1424"/><text x="1238.7" y="1411.7">CACNA1F</text></g>
<g id="b4-SCN7A"><use href="#bU" x="1240.9" y="1473.3"/><text x="1250.6" y="1461.7">SCN7A</text></g>
<g id="b4-CACNB3"><use href="#bU" x="856.9" y="1559"/><text x="866.5" y="1547.3">CACNB3</text></g>
<g id="b4-KCNA5"><use href="#bUC" x="975" y="1549.3"/><text x="984.6" y="1537.3">KCNA5</text></g>
<g id="b4-FLNA"><use href="#bU" x="1060.3" y="1550.7"/><text x="1069.9" y="1538.3">FLNA</text></g>
</g>
</svg>
